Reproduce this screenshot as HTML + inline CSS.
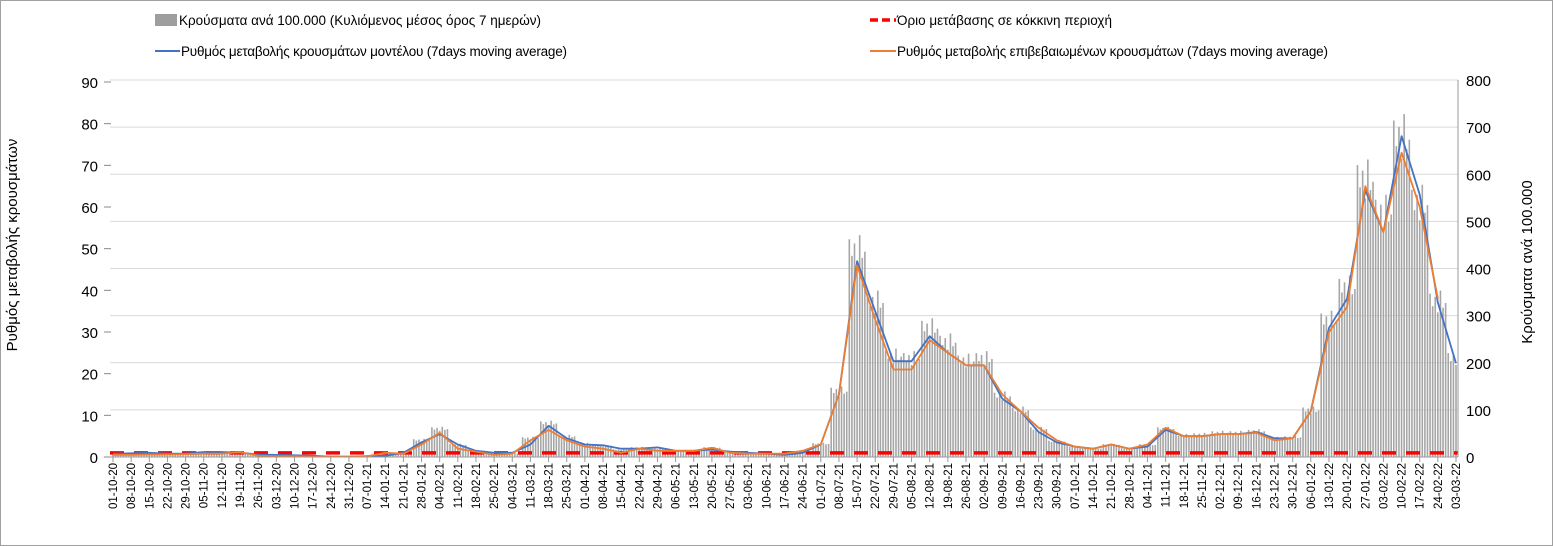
<!DOCTYPE html>
<html><head><meta charset="utf-8"><style>
body{margin:0;background:#fff}
svg{display:block;font-family:"Liberation Sans","DejaVu Sans",sans-serif}
</style></head><body>
<svg id="chart" width="1553" height="546" viewBox="0 0 1553 546">
<rect x="0.5" y="0.5" width="1552" height="545" fill="#fff" stroke="#a0a0a0"/>
<g id="grid"></g><g id="bars"></g><g id="lines"></g><g id="axes"></g>
<g font-size="13.5" fill="#000">
<rect x="155" y="14" width="22" height="12" fill="#9e9e9e"/>
<text x="179" y="25" textLength="362">Κρούσματα ανά 100.000 (Κυλιόμενος μέσος όρος 7 ημερών)</text>
<line x1="870" y1="20" x2="896" y2="20" stroke="#f00" stroke-width="3.5" stroke-dasharray="8,4"/>
<text x="897" y="25" textLength="215">Όριο μετάβασης σε κόκκινη περιοχή</text>
<line x1="155" y1="51" x2="180" y2="51" stroke="#4472c4" stroke-width="2"/>
<text x="181" y="56" textLength="386">Ρυθμός μεταβολής κρουσμάτων μοντέλου (7days moving average)</text>
<line x1="870" y1="51" x2="896" y2="51" stroke="#ed7d31" stroke-width="2"/>
<text x="897" y="56" textLength="431">Ρυθμός μεταβολής επιβεβαιωμένων κρουσμάτων (7days moving average)</text>
</g>
<text transform="translate(17,245) rotate(-90)" text-anchor="middle" font-size="15">Ρυθμός μεταβολής κρουσμάτων</text>
<text transform="translate(1532,262) rotate(-90)" text-anchor="middle" font-size="15">Κρούσματα ανά 100.000</text>
</svg>
<script>
const weekLabels=["01-10-20","08-10-20","15-10-20","22-10-20","29-10-20","05-11-20","12-11-20","19-11-20","26-11-20","03-12-20","10-12-20","17-12-20","24-12-20","31-12-20","07-01-21","14-01-21","21-01-21","28-01-21","04-02-21","11-02-21","18-02-21","25-02-21","04-03-21","11-03-21","18-03-21","25-03-21","01-04-21","08-04-21","15-04-21","22-04-21","29-04-21","06-05-21","13-05-21","20-05-21","27-05-21","03-06-21","10-06-21","17-06-21","24-06-21","01-07-21","08-07-21","15-07-21","22-07-21","29-07-21","05-08-21","12-08-21","19-08-21","26-08-21","02-09-21","09-09-21","16-09-21","23-09-21","30-09-21","07-10-21","14-10-21","21-10-21","28-10-21","04-11-21","11-11-21","18-11-21","25-11-21","02-12-21","09-12-21","16-12-21","23-12-21","30-12-21","06-01-22","13-01-22","20-01-22","27-01-22","03-02-22","10-02-22","17-02-22","24-02-22","03-03-22"];
const modelRate=[0.8,0.9,1.0,0.8,0.8,1.2,1.2,1.0,0.6,0.5,0.4,0.3,0.1,0.1,0.2,0.3,1.0,3.5,5.5,3.0,1.5,1.0,1.0,3.0,7.5,4.5,3.0,2.8,2.0,2.0,2.3,1.5,1.5,1.8,1.3,1.0,0.8,0.5,1.0,3.0,15,47,35,23,23,29,25,22,22,14,11,6,3.5,2.5,2.0,3.0,2.0,2.5,6.5,5.0,5.0,5.5,5.5,6.0,4.5,4.5,11,31,38,64,54,77,63,37,22.5];
const confirmedRate=[0.5,0.5,0.6,0.6,0.7,0.8,0.8,1.2,0.3,0.2,0.2,0.1,0.1,0.1,0.2,1.0,0.8,3.0,5.8,2.0,1.3,0.5,0.8,4.0,6.5,4.0,2.5,2.0,1.0,2.0,1.5,1.5,1.5,2.2,1.0,0.8,0.8,0.8,1.5,3.0,15,46,33,21,21,28,25,22,22,15,11,7,4,2.5,2.0,3.0,2.0,3.0,7.0,5.0,5.0,5.5,5.5,5.8,4.0,4.5,11,30,36,65,54,73,60,38];
const casesPer100k=[6,6,7,6,6,11,11,10,5,4,3,2,1,1,2,6,8,36,60,26,13,7,8,40,72,44,28,24,16,20,18,14,14,20,11,8,7,7,12,28,140,440,330,215,210,275,245,205,210,130,100,60,33,22,18,26,18,26,60,46,48,52,52,55,40,42,100,290,360,590,520,680,540,330,210];
const weekdayFactor=[1.05,0.97,1.03,0.93,1.07,0.96,0.99];
const leftTicks=[0,10,20,30,40,50,60,70,80,90];
const rightTicks=[0,100,200,300,400,500,600,700,800];
const thresholdRate=1;

const NS="http://www.w3.org/2000/svg";
const X0=113,X1=1456,Y0=457,YT=82,YR=80;
const nDays=(weekLabels.length-1)*7;
const xDay=d=>X0+(X1-X0)*d/nDays;
const yL=v=>Y0-(Y0-YT)*v/90;
const yR=v=>Y0-(Y0-YR)*v/800;
function mk(tag,attrs,parent){const e=document.createElementNS(NS,tag);for(const k in attrs)e.setAttribute(k,attrs[k]);parent.appendChild(e);return e;}
const grid=document.getElementById('grid'),bars=document.getElementById('bars'),lines=document.getElementById('lines'),axes=document.getElementById('axes');

rightTicks.forEach(t=>{
 const g=mk('line',{x1:110,x2:1458,y1:yR(t),y2:yR(t),stroke:'#d9d9d9','stroke-width':1},grid);
 
 
 const tx=mk('text',{x:1466,y:yR(t)+6,'font-size':15},axes);tx.textContent=t;
 
 
});
leftTicks.forEach(t=>{
 const tx=mk('text',{x:98,y:yL(t)+6,'font-size':15,'text-anchor':'end'},axes);tx.textContent=t;
 
 
 mk('line',{x1:104,x2:111,y1:yL(t),y2:yL(t),stroke:'#888'},axes);
});
const ax=mk('line',{x1:1458,x2:1458,y1:YR,y2:Y0,stroke:'#999'},axes);


mk('line',{x1:110,x2:1458,y1:Y0,y2:Y0,stroke:'#999'},axes);

for(let w=0;w<casesPer100k.length;w++){
 for(let d=0;d<7;d++){
  const day=w*7+d-3; if(day<0||day>nDays)continue;
  const v=casesPer100k[w]*weekdayFactor[d];
  const b=mk('rect',{x:xDay(day)-0.8,y:yR(v),width:1.6,height:Y0-yR(v),fill:'#a6a6a6'},bars);
  
  
 }
}
const th=mk('line',{x1:110,x2:1458,y1:yL(thresholdRate),y2:yL(thresholdRate),stroke:'#f00','stroke-width':3.5,'stroke-dasharray':'14,10'},lines);


function series(arr,color,name){
 const pts=arr.map((v,i)=>xDay(i*7).toFixed(1)+','+yL(v).toFixed(1)).join(' ');
 const p=mk('polyline',{points:pts,fill:'none',stroke:color,'stroke-width':1.8,'stroke-linejoin':'round'},lines);
 
 
}
series(modelRate,'#4472c4','model-rate-line');
series(confirmedRate,'#ed7d31','confirmed-rate-line');
weekLabels.forEach((l,i)=>{
 const x=xDay(i*7);
 const t=mk('text',{transform:`translate(${x+4},${463}) rotate(-90)`,'font-size':11.5,'text-anchor':'end'},axes);
 t.textContent=l;
 
 
 mk('line',{x1:x,x2:x,y1:Y0,y2:Y0+5,stroke:'#999'},axes);
});
</script>
</body></html>
